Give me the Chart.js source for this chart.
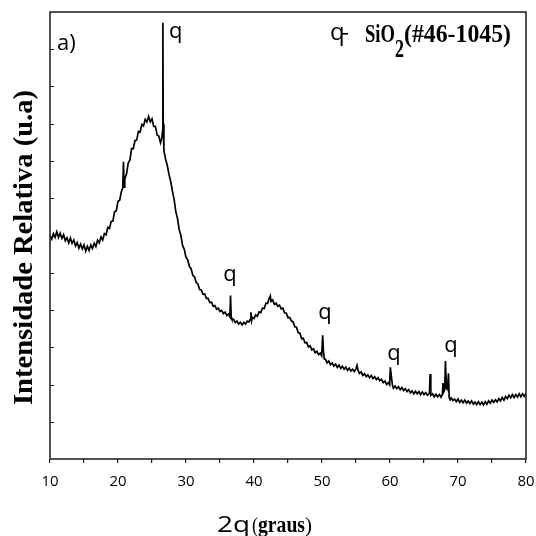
<!DOCTYPE html>
<html lang="pt">
<head>
<meta charset="utf-8" />
<title>DRX - amostra a)</title>
<script src="https://cdn.jsdelivr.net/npm/chart.js"></script>
<style>
  html, body { margin: 0; padding: 0; background: #fff; }
  #wrap { width: 536px; height: 536px; }
</style>
</head>
<body>
<div id="wrap"><canvas id="drx" width="536" height="536"></canvas></div>
<script>
// difratograma: 2 theta (graus) e intensidade (u.a.)
const twoTheta = [
  10, 10.25, 10.5, 10.75, 11, 11.25, 11.5, 11.75, 12, 12.25,
  12.5, 12.75, 13, 13.25, 13.5, 13.75, 14, 14.25, 14.5, 14.75,
  15, 15.25, 15.5, 15.75, 16, 16.25, 16.5, 16.75, 17, 17.25,
  17.5, 17.75, 18, 18.25, 18.5, 18.75, 19, 19.25, 19.5, 19.75,
  20, 20.25, 20.5, 20.7, 20.8, 20.9, 21, 21.25, 21.5, 21.75,
  22, 22.25, 22.5, 22.75, 23, 23.25, 23.5, 23.75, 24, 24.25,
  24.5, 24.75, 25, 25.25, 25.5, 25.75, 26, 26.25, 26.45, 26.55,
  26.6, 26.65, 26.75, 27, 27.25, 27.5, 27.75, 28, 28.25, 28.5,
  28.75, 29, 29.25, 29.5, 29.75, 30, 30.25, 30.5, 30.75, 31,
  31.25, 31.5, 31.75, 32, 32.25, 32.5, 32.75, 33, 33.25, 33.5,
  33.75, 34, 34.25, 34.5, 34.75, 35, 35.25, 35.5, 35.75, 36,
  36.25, 36.45, 36.55, 36.65, 36.75, 37, 37.25, 37.5, 37.75, 38,
  38.25, 38.5, 38.75, 39, 39.25, 39.45, 39.55, 39.65, 39.75, 40,
  40.25, 40.5, 40.75, 41, 41.25, 41.5, 41.75, 42, 42.25, 42.4,
  42.5, 42.75, 43, 43.25, 43.5, 43.75, 44, 44.25, 44.5, 44.75,
  45, 45.25, 45.5, 45.75, 46, 46.25, 46.5, 46.75, 47, 47.25,
  47.5, 47.75, 48, 48.25, 48.5, 48.75, 49, 49.25, 49.5, 49.75,
  49.95, 50.1, 50.2, 50.35, 50.5, 50.75, 51, 51.25, 51.5, 51.75,
  52, 52.25, 52.5, 52.75, 53, 53.25, 53.5, 53.75, 54, 54.25,
  54.5, 54.75, 55, 55.15, 55.3, 55.5, 55.75, 56, 56.25, 56.5,
  56.75, 57, 57.25, 57.5, 57.75, 58, 58.25, 58.5, 58.75, 59,
  59.25, 59.5, 59.75, 59.95, 60.05, 60.2, 60.35, 60.5, 60.75, 61,
  61.25, 61.5, 61.75, 62, 62.25, 62.5, 62.75, 63, 63.25, 63.5,
  63.75, 64, 64.25, 64.5, 64.75, 65, 65.25, 65.5, 65.8, 65.9,
  66, 66.25, 66.5, 66.75, 67, 67.25, 67.5, 67.7, 67.8, 67.9,
  68.05, 68.15, 68.3, 68.45, 68.6, 68.7, 68.85, 69, 69.25, 69.5,
  69.75, 70, 70.25, 70.5, 70.75, 71, 71.25, 71.5, 71.75, 72,
  72.25, 72.5, 72.75, 73, 73.25, 73.5, 73.75, 74, 74.25, 74.5,
  74.75, 75, 75.25, 75.5, 75.75, 76, 76.25, 76.5, 76.75, 77,
  77.25, 77.5, 77.75, 78, 78.25, 78.5, 78.75, 79, 79.25, 79.5,
  79.75, 80
];
const intensity = [
  598, 590, 605, 595, 610, 595, 606, 592, 602, 586,
  594, 580, 593, 579, 588, 572, 581, 566, 577, 564,
  575, 558, 571, 560, 575, 565, 579, 570, 587, 580,
  596, 588, 605, 602, 622, 619, 638, 639, 664, 666,
  692, 695, 718, 728, 798, 730, 752, 765, 794, 803,
  833, 833, 855, 856, 879, 877, 898, 894, 912, 905,
  920, 905, 913, 893, 893, 870, 867, 849, 862, 880,
  1171, 900, 828, 805, 788, 764, 745, 719, 697, 664,
  646, 616, 600, 573, 563, 541, 535, 517, 511, 493,
  489, 474, 470, 455, 454, 442, 443, 431, 431, 420,
  421, 410, 412, 402, 405, 396, 399, 390, 394, 385,
  389, 382, 439, 380, 375, 375, 366, 370, 362, 367,
  360, 367, 362, 370, 368, 375, 394, 372, 380, 377,
  387, 383, 395, 393, 405, 404, 418, 418, 432, 438,
  423, 427, 415, 418, 410, 413, 403, 405, 392, 392,
  379, 380, 371, 368, 355, 354, 339, 338, 323, 324,
  312, 313, 301, 304, 293, 296, 285, 289, 280, 284,
  277, 332, 292, 268, 268, 258, 263, 253, 258, 249,
  255, 246, 252, 243, 249, 241, 247, 238, 244, 236,
  241, 235, 242, 251, 238, 230, 234, 224, 229, 221,
  226, 218, 224, 216, 221, 213, 218, 210, 214, 205,
  209, 200, 205, 199, 246, 222, 199, 190, 196, 189,
  194, 186, 192, 184, 189, 181, 186, 178, 183, 175,
  182, 175, 181, 173, 180, 173, 178, 171, 176, 228,
  171, 175, 167, 174, 167, 173, 166, 174, 204, 180,
  186, 263, 190, 187, 230, 165, 159, 164, 157, 161,
  154, 161, 152, 158, 151, 158, 150, 156, 149, 156,
  147, 153, 146, 154, 146, 153, 145, 154, 147, 156,
  150, 158, 152, 159, 153, 162, 156, 165, 158, 168,
  162, 171, 164, 173, 165, 173, 166, 175, 167, 175,
  168, 176
];

// picos de quartzo marcados com "q" (2 theta, intensidade onde fica o rotulo)
const quartzLabelAngle = [28.5, 36.47, 50.44, 60.59, 68.97];
const quartzLabelLevel = [1131, 477, 375, 265, 287];

const xTickLabels = [10, 20, 30, 40, 50, 60, 70, 80];

const points = twoTheta.map((t, i) => ({ x: t, y: intensity[i] }));

// escreve texto ajustado a uma largura (escala horizontal)
function fitText(ctx, txt, x, y, w) {
  const m = ctx.measureText(txt).width;
  ctx.save();
  ctx.translate(x, y);
  ctx.scale(w / m, 1);
  ctx.fillText(txt, 0, 0);
  ctx.restore();
}

const decor = {
  id: 'decor',
  afterDraw(chart) {
    const ctx = chart.ctx;
    const a = chart.chartArea;
    const xs = chart.scales.x, ys = chart.scales.y;
    ctx.save();

    // moldura
    ctx.strokeStyle = '#1a1a1a';
    ctx.lineWidth = 1.5;
    ctx.strokeRect(a.left, a.top, a.right - a.left, a.bottom - a.top);

    // marcas do eixo y para dentro
    ctx.lineWidth = 1.2;
    ctx.beginPath();
    ys.ticks.forEach(t => {
      if (t.value <= 0 || t.value >= 1200) return;
      const py = Math.round(ys.getPixelForValue(t.value)) + 0.5;
      ctx.moveTo(a.left, py);
      ctx.lineTo(a.left + 4, py);
    });
    ctx.stroke();

    ctx.fillStyle = '#000';
    ctx.textBaseline = 'alphabetic';

    // rotulos q
    ctx.font = '22px "Open Sans"';
    ctx.textAlign = 'center';
    quartzLabelAngle.forEach((t, i) => {
      ctx.fillText('q', xs.getPixelForValue(t), ys.getPixelForValue(quartzLabelLevel[i]));
    });

    ctx.textAlign = 'left';
    ctx.font = '22px "Open Sans"';
    ctx.fillText('a)', 57, 50);

    // legenda
    ctx.font = '24px "Open Sans"';
    ctx.fillText('q', 330, 40);
    ctx.fillRect(342, 33, 6, 1.6);
    ctx.font = 'bold 25px "Liberation Serif"';
    fitText(ctx, 'SiO', 365, 42, 30);
    fitText(ctx, '2', 395, 57, 9);
    fitText(ctx, '(#46-1045)', 404, 42, 107);

    // titulo eixo x
    ctx.font = '22px "Open Sans"';
    fitText(ctx, '2q', 217, 532, 33);
    ctx.font = '22px "Liberation Serif"';
    fitText(ctx, '(', 252, 532, 6);
    fitText(ctx, ')', 305, 532, 7);
    ctx.font = 'bold 23px "Liberation Serif"';
    fitText(ctx, 'graus', 258, 532, 47);

    // titulo eixo y
    ctx.save();
    ctx.translate(32, 405);
    ctx.rotate(-Math.PI / 2);
    ctx.font = 'bold 28px "Liberation Serif"';
    fitText(ctx, 'Intensidade Relativa (u.a)', 0, 0, 315);
    ctx.restore();

    ctx.restore();
  }
};

new Chart(document.getElementById('drx'), {
  type: 'line',
  data: {
    datasets: [{
      data: points,
      borderColor: '#000',
      borderWidth: 1.7,
      pointRadius: 0,
      tension: 0,
      fill: false
    }]
  },
  options: {
    responsive: false,
    animation: false,
    layout: { padding: { top: 12, right: 10, left: 0, bottom: 0 } },
    plugins: { legend: { display: false }, tooltip: { enabled: false } },
    scales: {
      x: {
        type: 'linear',
        min: 10,
        max: 80,
        afterFit: s => { s.height = 77; s.paddingLeft = 0; s.paddingRight = 0; },
        border: { display: false },
        grid: { drawOnChartArea: false, drawTicks: true, tickLength: 4, color: '#1a1a1a', lineWidth: 1.2 },
        ticks: {
          stepSize: 5,
          autoSkip: false,
          maxRotation: 0,
          padding: 10,
          color: '#000',
          font: { family: 'Open Sans', size: 15 },
          callback: v => xTickLabels.includes(v) ? String(v) : ''
        }
      },
      y: {
        min: 0,
        max: 1200,
        afterFit: s => { s.width = 50; },
        border: { display: false },
        grid: { display: false, drawTicks: false },
        ticks: { display: false, stepSize: 100 }
      }
    }
  },
  plugins: [decor]
});
</script>
</body>
</html>
